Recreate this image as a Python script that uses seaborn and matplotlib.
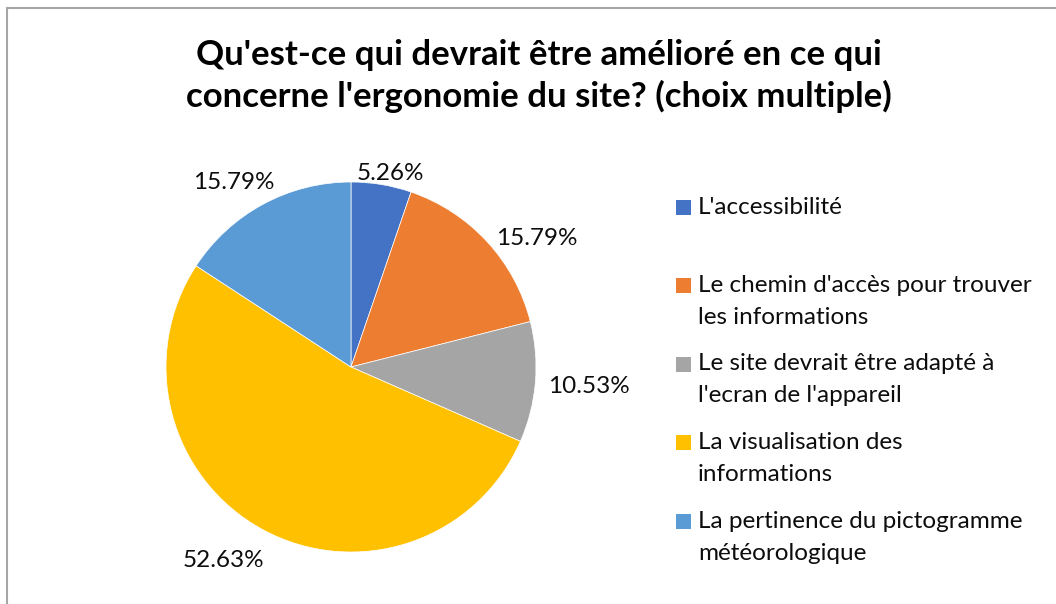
import matplotlib
matplotlib.use("Agg")
import matplotlib.pyplot as plt
from matplotlib.patches import Rectangle
import numpy as np
import seaborn as sns

# ---- data ----
categories = [
    "L'accessibilité",
    "Le chemin d'accès pour trouver\nles informations",
    "Le site devrait être adapté à\nl'ecran de l'appareil",
    "La visualisation des\ninformations",
    "La pertinence du pictogramme\nmétéorologique",
]
counts = [1, 3, 2, 10, 3]
title = "Qu'est-ce qui devrait être amélioré en ce qui\nconcerne l'ergonomie du site? (choix multiple)"

# label distance from centre (in radii) and angle tweak
label_dist = [1.07, 1.22, 1.29, 1.25, 1.18]
label_shift = [-2, -8, 0, -5, 4]

sns.set_theme(style="white")
plt.rcParams['font.family'] = ['Lato', 'DejaVu Sans']
colors = sns.color_palette(["#4472C4", "#ED7D31", "#A5A5A5", "#FFC000", "#5B9BD5"])

W, H = 1056, 604
fig = plt.figure(figsize=(W / 100, H / 100), dpi=100)

# chart border (cut off at right/bottom like the screenshot)
fig.patches.append(Rectangle((7 / W, -0.1), 1.2, 1 - 8 / H + 0.1, transform=fig.transFigure,
                             fill=False, edgecolor="#A6A6A6", linewidth=1.5))

# pie axes: centre (351, 367) px, radius 185 px
cx, cy, r = 351, 367, 185
ax = fig.add_axes([(cx - r) / W, (H - cy - r) / H, 2 * r / W, 2 * r / H])
wedges, _ = ax.pie(counts, colors=colors, startangle=90, counterclock=False,
                   wedgeprops=dict(edgecolor="white", linewidth=0.5))
ax.set_xlim(-1, 1)
ax.set_ylim(-1, 1)
ax.set_aspect("equal")
ax.axis("off")

total = sum(counts)
for w, c, d, s in zip(wedges, counts, label_dist, label_shift):
    mid = np.deg2rad((w.theta1 + w.theta2) / 2 + s)
    ax.text(d * np.cos(mid), d * np.sin(mid), f"{100 * c / total:.2f}%",
            ha="center", va="center", fontsize=17.5, color="#0d0d0d", clip_on=False)

fig.text(539 / W, 1 - 76 / H, title, ha="center", va="center", fontsize=25,
         fontweight="bold", color="black", linespacing=1.36)

# legend, drawn manually so the marker sits by the first line
y0, step, line_h = 207, 78.5, 32
for i, (lab, col) in enumerate(zip(categories, colors)):
    y = y0 + i * step
    fig.patches.append(Rectangle((676 / W, 1 - (y + 7.5) / H), 15 / W, 15 / H,
                                 transform=fig.transFigure, facecolor=col, edgecolor="none"))
    for j, part in enumerate(lab.split("\n")):
        fig.text(698 / W, 1 - (y + j * line_h) / H, part, ha="left", va="center",
                 fontsize=17.5, color="#0d0d0d")

fig.savefig("out.png", dpi=100)
